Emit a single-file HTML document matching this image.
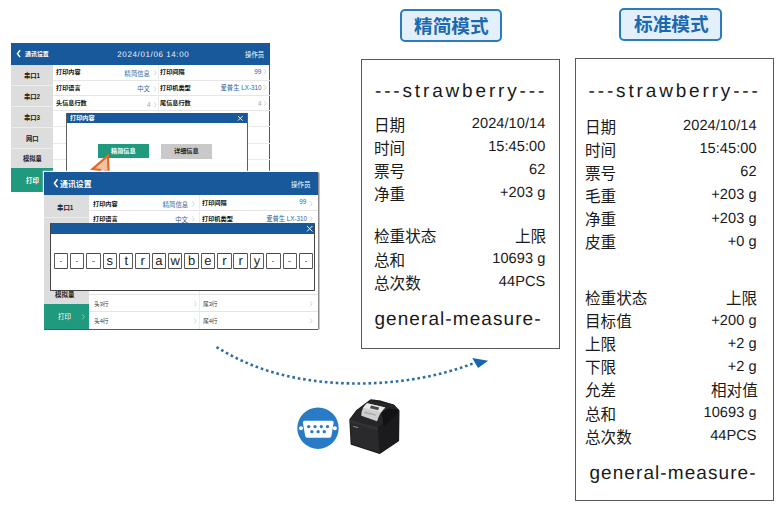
<!DOCTYPE html>
<html lang="zh"><head><meta charset="utf-8"><title>print modes</title><style>
html,body{margin:0;padding:0;background:#fff}
body{width:780px;height:514px;position:relative;overflow:hidden;font-family:"Liberation Sans",sans-serif}
#c{position:absolute;left:0;top:0;width:780px;height:514px;overflow:hidden}
#c div{position:absolute}
.g{position:absolute;display:block;overflow:visible}
.g text{font-family:"Liberation Sans","Noto Sans CJK SC",sans-serif;white-space:pre}
.g text.b{font-weight:bold}
#tx text{font-family:"Liberation Sans",sans-serif;white-space:pre;text-rendering:geometricPrecision;font-kerning:none}
</style></head><body>
<div id="c">
<div style="left:11.00px;top:43.00px;width:259.00px;height:149.40px;background:#fff;"></div>
<div style="left:269.30px;top:64.70px;width:0.80px;height:127.70px;background:#5a5a5a;"></div>
<div style="left:11.00px;top:43.00px;width:259.00px;height:21.70px;background:#17599a;"></div>
<svg class="g" style="left:17.00px;top:49.90px;width:3.40px;height:7.40px;overflow:visible" viewBox="0 0 3.4 7.4"><path d="M3.1 0.3L0.4 3.7L3.1 7.1000000000000005" fill="none" stroke="#fff" stroke-width="1.4"/></svg>
<svg class="g" style="left:25.10px;top:50.73px;width:23.80px;height:7.14px;fill:#fff"><text class="b" x="0" y="5.24" font-size="5.95">通讯设置</text></svg>
<svg class="g" style="left:245.00px;top:50.80px;width:19.20px;height:7.68px;fill:#fff"><text x="0" y="5.63" font-size="6.4">操作员</text></svg>
<div style="left:11.00px;top:64.70px;width:42.00px;height:127.70px;background:#dddddd;"></div>
<div style="left:11.00px;top:85.20px;width:42.00px;height:0.80px;background:#ececec;"></div>
<div style="left:11.00px;top:106.30px;width:42.00px;height:0.80px;background:#ececec;"></div>
<div style="left:11.00px;top:127.30px;width:42.00px;height:0.80px;background:#ececec;"></div>
<div style="left:11.00px;top:147.50px;width:42.00px;height:0.80px;background:#ececec;"></div>
<div style="left:11.00px;top:167.60px;width:42.00px;height:24.80px;background:#1f9a7f;"></div>
<svg class="g" style="left:23.84px;top:72.40px;width:16.32px;height:7.56px;fill:#222"><text class="b" x="0" y="5.54" font-size="6.3">串口1</text></svg>
<svg class="g" style="left:23.84px;top:93.40px;width:16.32px;height:7.56px;fill:#222"><text class="b" x="0" y="5.54" font-size="6.3">串口2</text></svg>
<svg class="g" style="left:23.84px;top:114.45px;width:16.32px;height:7.56px;fill:#222"><text class="b" x="0" y="5.54" font-size="6.3">串口3</text></svg>
<svg class="g" style="left:25.70px;top:135.05px;width:12.60px;height:7.56px;fill:#222"><text class="b" x="0" y="5.54" font-size="6.3">网口</text></svg>
<svg class="g" style="left:22.55px;top:155.00px;width:18.90px;height:7.56px;fill:#222"><text class="b" x="0" y="5.54" font-size="6.3">模拟量</text></svg>
<svg class="g" style="left:25.90px;top:176.70px;width:12.80px;height:7.68px;fill:#fff"><text class="b" x="0" y="5.63" font-size="6.4">打印</text></svg>
<div style="left:53.00px;top:79.50px;width:217.00px;height:0.80px;background:#e6e6e6;"></div>
<div style="left:53.00px;top:94.60px;width:217.00px;height:0.80px;background:#e6e6e6;"></div>
<div style="left:53.00px;top:109.80px;width:217.00px;height:0.80px;background:#e6e6e6;"></div>
<div style="left:53.00px;top:126.10px;width:217.00px;height:0.80px;background:#ece8e5;"></div>
<div style="left:53.00px;top:142.80px;width:217.00px;height:0.80px;background:#ece8e5;"></div>
<div style="left:53.00px;top:159.10px;width:217.00px;height:0.80px;background:#ece8e5;"></div>
<div style="left:53.00px;top:175.60px;width:217.00px;height:0.80px;background:#ece8e5;"></div>
<div style="left:157.70px;top:64.70px;width:0.70px;height:127.70px;background:#ededed;"></div>
<svg class="g" style="left:55.60px;top:69.32px;width:24.60px;height:7.38px;fill:#111"><text class="b" x="0" y="5.41" font-size="6.15">打印内容</text></svg>
<svg class="g" style="left:124.40px;top:69.55px;width:25.80px;height:7.56px;fill:#2f669e"><text x="25.80" y="5.54" font-size="6.3" text-anchor="end">精简信息</text></svg>
<svg class="g" style="left:153.60px;top:70.20px;width:2.30px;height:5.40px;overflow:visible" viewBox="0 0 2.3 5.4"><path d="M0.3 0.3L1.9999999999999998 2.7L0.3 5.1000000000000005" fill="none" stroke="#bccbdb" stroke-width="0.8"/></svg>
<svg class="g" style="left:159.80px;top:69.02px;width:24.60px;height:7.38px;fill:#111"><text class="b" x="0" y="5.41" font-size="6.15">打印间隔</text></svg>
<svg class="g" style="left:254.02px;top:67.55px;width:7.38px;height:7.56px;fill:#2f669e"><text x="7.38" y="5.54" font-size="6.3" text-anchor="end">99</text></svg>
<svg class="g" style="left:264.20px;top:68.60px;width:2.30px;height:5.40px;overflow:visible" viewBox="0 0 2.3 5.4"><path d="M0.3 0.3L1.9999999999999998 2.7L0.3 5.1000000000000005" fill="none" stroke="#bccbdb" stroke-width="0.8"/></svg>
<svg class="g" style="left:55.60px;top:85.32px;width:24.60px;height:7.38px;fill:#111"><text class="b" x="0" y="5.41" font-size="6.15">打印语言</text></svg>
<svg class="g" style="left:137.40px;top:85.15px;width:12.80px;height:7.56px;fill:#2f669e"><text x="12.80" y="5.54" font-size="6.3" text-anchor="end">中文</text></svg>
<svg class="g" style="left:153.60px;top:85.80px;width:2.30px;height:5.40px;overflow:visible" viewBox="0 0 2.3 5.4"><path d="M0.3 0.3L1.9999999999999998 2.7L0.3 5.1000000000000005" fill="none" stroke="#bccbdb" stroke-width="0.8"/></svg>
<svg class="g" style="left:159.80px;top:85.02px;width:30.75px;height:7.38px;fill:#111"><text class="b" x="0" y="5.41" font-size="6.15">打印机类型</text></svg>
<svg class="g" style="left:219.87px;top:84.05px;width:41.53px;height:7.56px;fill:#2f669e"><text x="41.53" y="5.54" font-size="6.3" text-anchor="end">爱普生 LX-310</text></svg>
<svg class="g" style="left:264.20px;top:85.10px;width:2.30px;height:5.40px;overflow:visible" viewBox="0 0 2.3 5.4"><path d="M0.3 0.3L1.9999999999999998 2.7L0.3 5.1000000000000005" fill="none" stroke="#bccbdb" stroke-width="0.8"/></svg>
<svg class="g" style="left:55.60px;top:100.42px;width:30.75px;height:7.38px;fill:#111"><text class="b" x="0" y="5.41" font-size="6.15">头信息行数</text></svg>
<svg class="g" style="left:146.61px;top:100.85px;width:3.59px;height:7.56px;fill:#9aa8b8"><text x="3.59" y="5.54" font-size="6.3" text-anchor="end">4</text></svg>
<svg class="g" style="left:153.60px;top:101.50px;width:2.30px;height:5.40px;overflow:visible" viewBox="0 0 2.3 5.4"><path d="M0.3 0.3L1.9999999999999998 2.7L0.3 5.1000000000000005" fill="none" stroke="#bccbdb" stroke-width="0.8"/></svg>
<svg class="g" style="left:159.80px;top:100.12px;width:30.75px;height:7.38px;fill:#111"><text class="b" x="0" y="5.41" font-size="6.15">尾信息行数</text></svg>
<svg class="g" style="left:257.81px;top:100.15px;width:3.59px;height:7.56px;fill:#9aa8b8"><text x="3.59" y="5.54" font-size="6.3" text-anchor="end">4</text></svg>
<svg class="g" style="left:264.20px;top:101.20px;width:2.30px;height:5.40px;overflow:visible" viewBox="0 0 2.3 5.4"><path d="M0.3 0.3L1.9999999999999998 2.7L0.3 5.1000000000000005" fill="none" stroke="#bccbdb" stroke-width="0.8"/></svg>
<div style="left:67.30px;top:113.20px;width:179.70px;height:78.00px;background:#fff;box-shadow:-0.8px 0 0 0 #3a3a3a, 0.8px 0 0 0 #3a3a3a;"></div>
<div style="left:67.30px;top:113.20px;width:179.70px;height:10.20px;background:#17599a;"></div>
<svg class="g" style="left:70.00px;top:115.40px;width:24.80px;height:7.44px;fill:#fff"><text class="b" x="0" y="5.46" font-size="6.2">打印内容</text></svg>
<svg class="g" style="left:237.90px;top:116.00px;width:4.60px;height:4.60px;overflow:visible" viewBox="0 0 4.6 4.6"><path d="M0 0L4.6 4.6M4.6 0L0 4.6" fill="none" stroke="#fff" stroke-width="0.9"/></svg>
<div style="left:98.00px;top:143.80px;width:50.80px;height:14.20px;background:#1f9a7f;"></div>
<svg class="g" style="left:111.00px;top:147.70px;width:24.80px;height:7.44px;fill:#fff"><text class="b" x="0" y="5.46" font-size="6.2">精简信息</text></svg>
<div style="left:160.60px;top:143.80px;width:51.60px;height:14.80px;background:#c9c9c9;"></div>
<svg class="g" style="left:174.40px;top:148.00px;width:24.80px;height:7.44px;fill:#222"><text class="b" x="0" y="5.46" font-size="6.2">详细信息</text></svg>
<svg class="g" style="left:85px;top:150px;width:30px;height:30px;overflow:visible" viewBox="85 150 30 30"><path d="M107.9 155.6L92.6 169.0L99.8 169.9L97.6 176L104 177L105.6 171.6L108.7 173.2Z" fill="#f1c3a6" stroke="#df6a21" stroke-width="2.2" stroke-linejoin="miter"/></svg>
<div style="left:44.00px;top:172.30px;width:274.00px;height:156.70px;background:#fff;box-shadow:0 1px 0 0 #5c5c5c, 1.5px 0.5px 0 0 #8c8c8c, -1.2px -1.2px 0 0 #fff;"></div>
<div style="left:44.00px;top:172.30px;width:274.00px;height:22.40px;background:#17599a;"></div>
<svg class="g" style="left:54.00px;top:179.40px;width:3.90px;height:8.60px;overflow:visible" viewBox="0 0 3.9 8.6"><path d="M3.6 0.3L0.4 4.3L3.6 8.299999999999999" fill="none" stroke="#fff" stroke-width="1.5"/></svg>
<svg class="g" style="left:60.00px;top:179.75px;width:31.60px;height:9.48px;fill:#fff"><text class="b" x="0" y="6.95" font-size="7.9">通讯设置</text></svg>
<svg class="g" style="left:290.50px;top:180.75px;width:19.50px;height:7.80px;fill:#fff"><text x="0" y="5.72" font-size="6.5">操作员</text></svg>
<div style="left:44.00px;top:194.70px;width:44.60px;height:134.30px;background:#dddddd;"></div>
<div style="left:44.00px;top:216.60px;width:44.60px;height:0.80px;background:#ececec;"></div>
<svg class="g" style="left:56.71px;top:203.60px;width:16.58px;height:7.68px;fill:#222"><text class="b" x="0" y="5.63" font-size="6.4">串口1</text></svg>
<svg class="g" style="left:55.05px;top:290.95px;width:19.50px;height:7.80px;fill:#222"><text class="b" x="0" y="5.72" font-size="6.5">模拟量</text></svg>
<div style="left:44.00px;top:303.90px;width:44.60px;height:25.10px;background:#1f9a7f;"></div>
<svg class="g" style="left:58.40px;top:312.95px;width:13.00px;height:7.80px;fill:#fff"><text x="0" y="5.72" font-size="6.5">打印</text></svg>
<svg class="g" style="left:81.80px;top:313.60px;width:2.60px;height:5.60px;overflow:visible" viewBox="0 0 2.6 5.6"><path d="M0.3 0.3L2.3000000000000003 2.8L0.3 5.3" fill="none" stroke="#8fd3c2" stroke-width="0.8"/></svg>
<div style="left:88.60px;top:210.10px;width:229.40px;height:0.80px;background:#e4e4e4;"></div>
<div style="left:199.20px;top:194.70px;width:0.70px;height:134.30px;background:#ececec;"></div>
<svg class="g" style="left:93.20px;top:200.90px;width:24.80px;height:7.44px;fill:#111"><text class="b" x="0" y="5.46" font-size="6.2">打印内容</text></svg>
<svg class="g" style="left:161.60px;top:200.90px;width:26.20px;height:7.68px;fill:#2f669e"><text x="26.20" y="5.63" font-size="6.4" text-anchor="end">精简信息</text></svg>
<svg class="g" style="left:192.00px;top:200.70px;width:2.40px;height:5.60px;overflow:visible" viewBox="0 0 2.4 5.6"><path d="M0.3 0.3L2.1 2.8L0.3 5.3" fill="none" stroke="#bccbdb" stroke-width="0.8"/></svg>
<svg class="g" style="left:202.30px;top:200.20px;width:24.80px;height:7.44px;fill:#111"><text class="b" x="0" y="5.46" font-size="6.2">打印间隔</text></svg>
<svg class="g" style="left:299.42px;top:198.25px;width:7.38px;height:7.56px;fill:#2f669e"><text x="7.38" y="5.54" font-size="6.3" text-anchor="end">99</text></svg>
<svg class="g" style="left:309.60px;top:200.60px;width:2.40px;height:5.60px;overflow:visible" viewBox="0 0 2.4 5.6"><path d="M0.3 0.3L2.1 2.8L0.3 5.3" fill="none" stroke="#bccbdb" stroke-width="0.8"/></svg>
<svg class="g" style="left:93.20px;top:216.40px;width:24.80px;height:7.44px;fill:#111"><text class="b" x="0" y="5.46" font-size="6.2">打印语言</text></svg>
<svg class="g" style="left:174.80px;top:215.80px;width:13.00px;height:7.68px;fill:#2f669e"><text x="13.00" y="5.63" font-size="6.4" text-anchor="end">中文</text></svg>
<svg class="g" style="left:192.00px;top:216.40px;width:2.40px;height:5.60px;overflow:visible" viewBox="0 0 2.4 5.6"><path d="M0.3 0.3L2.1 2.8L0.3 5.3" fill="none" stroke="#bccbdb" stroke-width="0.8"/></svg>
<svg class="g" style="left:202.30px;top:216.20px;width:31.00px;height:7.44px;fill:#111"><text class="b" x="0" y="5.46" font-size="6.2">打印机类型</text></svg>
<svg class="g" style="left:265.72px;top:215.15px;width:41.08px;height:7.56px;fill:#2f669e"><text x="41.08" y="5.54" font-size="6.3" text-anchor="end">爱普生 LX-310</text></svg>
<svg class="g" style="left:309.60px;top:216.10px;width:2.40px;height:5.60px;overflow:visible" viewBox="0 0 2.4 5.6"><path d="M0.3 0.3L2.1 2.8L0.3 5.3" fill="none" stroke="#bccbdb" stroke-width="0.8"/></svg>
<div style="left:88.60px;top:294.20px;width:229.40px;height:0.70px;background:#e4e4e4;"></div>
<div style="left:88.60px;top:311.10px;width:229.40px;height:0.70px;background:#e4e4e4;"></div>
<svg class="g" style="left:93.80px;top:301.05px;width:14.65px;height:6.84px;fill:#333"><text x="0" y="5.02" font-size="5.7">头3行</text></svg>
<svg class="g" style="left:193.60px;top:301.10px;width:2.40px;height:5.60px;overflow:visible" viewBox="0 0 2.4 5.6"><path d="M0.3 0.3L2.1 2.8L0.3 5.3" fill="none" stroke="#bccbdb" stroke-width="0.8"/></svg>
<svg class="g" style="left:203.00px;top:301.05px;width:14.65px;height:6.84px;fill:#333"><text x="0" y="5.02" font-size="5.7">尾3行</text></svg>
<svg class="g" style="left:309.80px;top:301.10px;width:2.40px;height:5.60px;overflow:visible" viewBox="0 0 2.4 5.6"><path d="M0.3 0.3L2.1 2.8L0.3 5.3" fill="none" stroke="#bccbdb" stroke-width="0.8"/></svg>
<svg class="g" style="left:93.80px;top:317.75px;width:14.65px;height:6.84px;fill:#333"><text x="0" y="5.02" font-size="5.7">头4行</text></svg>
<svg class="g" style="left:193.60px;top:317.80px;width:2.40px;height:5.60px;overflow:visible" viewBox="0 0 2.4 5.6"><path d="M0.3 0.3L2.1 2.8L0.3 5.3" fill="none" stroke="#bccbdb" stroke-width="0.8"/></svg>
<svg class="g" style="left:203.00px;top:317.75px;width:14.65px;height:6.84px;fill:#333"><text x="0" y="5.02" font-size="5.7">尾4行</text></svg>
<svg class="g" style="left:309.80px;top:317.80px;width:2.40px;height:5.60px;overflow:visible" viewBox="0 0 2.4 5.6"><path d="M0.3 0.3L2.1 2.8L0.3 5.3" fill="none" stroke="#bccbdb" stroke-width="0.8"/></svg>
<div style="left:51.30px;top:222.60px;width:263.20px;height:67.30px;background:#fff;box-shadow:-0.9px 0 0 0 #444, 0.9px 0 0 0 #444, 0 0.9px 0 0 #444, 0.9px 0.9px 0 0 #444, -0.9px 0.9px 0 0 #444;"></div>
<div style="left:51.30px;top:222.60px;width:263.20px;height:11.20px;background:#17599a;"></div>
<svg class="g" style="left:306.80px;top:225.60px;width:5.40px;height:5.40px;overflow:visible" viewBox="0 0 5.4 5.4"><path d="M0 0L5.4 5.4M5.4 0L0 5.4" fill="none" stroke="#fff" stroke-width="1.0"/></svg>
<div style="left:53.60px;top:252.90px;width:14.40px;height:16.40px;background:#fff;box-shadow:inset 0 0 0 0.9px #4a4a4a;border-radius:1.2px;"></div>
<div style="left:59.50px;top:261.30px;width:2.40px;height:0.80px;background:#8a8a8a;"></div>
<div style="left:69.95px;top:252.90px;width:14.40px;height:16.40px;background:#fff;box-shadow:inset 0 0 0 0.9px #4a4a4a;border-radius:1.2px;"></div>
<div style="left:75.85px;top:261.30px;width:2.40px;height:0.80px;background:#8a8a8a;"></div>
<div style="left:86.31px;top:252.90px;width:14.40px;height:16.40px;background:#fff;box-shadow:inset 0 0 0 0.9px #4a4a4a;border-radius:1.2px;"></div>
<div style="left:92.21px;top:261.30px;width:2.40px;height:0.80px;background:#8a8a8a;"></div>
<div style="left:102.66px;top:252.90px;width:14.40px;height:16.40px;background:#fff;box-shadow:inset 0 0 0 0.9px #4a4a4a;border-radius:1.2px;"></div>
<div style="left:119.01px;top:252.90px;width:14.40px;height:16.40px;background:#fff;box-shadow:inset 0 0 0 0.9px #4a4a4a;border-radius:1.2px;"></div>
<div style="left:135.37px;top:252.90px;width:14.40px;height:16.40px;background:#fff;box-shadow:inset 0 0 0 0.9px #4a4a4a;border-radius:1.2px;"></div>
<div style="left:151.72px;top:252.90px;width:14.40px;height:16.40px;background:#fff;box-shadow:inset 0 0 0 0.9px #4a4a4a;border-radius:1.2px;"></div>
<div style="left:168.07px;top:252.90px;width:14.40px;height:16.40px;background:#fff;box-shadow:inset 0 0 0 0.9px #4a4a4a;border-radius:1.2px;"></div>
<div style="left:184.42px;top:252.90px;width:14.40px;height:16.40px;background:#fff;box-shadow:inset 0 0 0 0.9px #4a4a4a;border-radius:1.2px;"></div>
<div style="left:200.78px;top:252.90px;width:14.40px;height:16.40px;background:#fff;box-shadow:inset 0 0 0 0.9px #4a4a4a;border-radius:1.2px;"></div>
<div style="left:217.13px;top:252.90px;width:14.40px;height:16.40px;background:#fff;box-shadow:inset 0 0 0 0.9px #4a4a4a;border-radius:1.2px;"></div>
<div style="left:233.48px;top:252.90px;width:14.40px;height:16.40px;background:#fff;box-shadow:inset 0 0 0 0.9px #4a4a4a;border-radius:1.2px;"></div>
<div style="left:249.84px;top:252.90px;width:14.40px;height:16.40px;background:#fff;box-shadow:inset 0 0 0 0.9px #4a4a4a;border-radius:1.2px;"></div>
<div style="left:266.19px;top:252.90px;width:14.40px;height:16.40px;background:#fff;box-shadow:inset 0 0 0 0.9px #4a4a4a;border-radius:1.2px;"></div>
<div style="left:272.09px;top:261.30px;width:2.40px;height:0.80px;background:#8a8a8a;"></div>
<div style="left:282.54px;top:252.90px;width:14.40px;height:16.40px;background:#fff;box-shadow:inset 0 0 0 0.9px #4a4a4a;border-radius:1.2px;"></div>
<div style="left:288.44px;top:261.30px;width:2.40px;height:0.80px;background:#8a8a8a;"></div>
<div style="left:298.90px;top:252.90px;width:14.40px;height:16.40px;background:#fff;box-shadow:inset 0 0 0 0.9px #4a4a4a;border-radius:1.2px;"></div>
<div style="left:304.80px;top:261.30px;width:2.40px;height:0.80px;background:#8a8a8a;"></div>
<div style="left:400.30px;top:9.30px;width:101.60px;height:33.20px;background:#e3f0fb;box-sizing:border-box;border:2.2px solid #277cc4;border-radius:5px;"></div>
<svg class="g" style="left:414.00px;top:16.85px;width:74.80px;height:22.44px;fill:#1b69b0"><text class="b" x="0" y="16.46" font-size="18.7">精简模式</text></svg>
<div style="left:619.40px;top:7.60px;width:102.60px;height:33.30px;background:#e3f0fb;box-sizing:border-box;border:2.2px solid #277cc4;border-radius:5px;"></div>
<svg class="g" style="left:633.70px;top:15.20px;width:74.80px;height:22.44px;fill:#1b69b0"><text class="b" x="0" y="16.46" font-size="18.7">标准模式</text></svg>
<div style="left:361.20px;top:58.50px;width:198.80px;height:290.10px;background:#fff;box-sizing:border-box;border:1px solid #5a5a5a;"></div>
<div style="left:575.20px;top:58.40px;width:198.80px;height:442.50px;background:#fff;box-sizing:border-box;border:1px solid #5a5a5a;"></div>
<svg class="g" style="left:373.90px;top:116.70px;width:31.20px;height:18.72px;fill:#1a1a1a"><text x="0" y="13.73" font-size="15.6">日期</text></svg>
<svg class="g" style="left:373.90px;top:139.70px;width:31.20px;height:18.72px;fill:#1a1a1a"><text x="0" y="13.73" font-size="15.6">时间</text></svg>
<svg class="g" style="left:373.90px;top:162.70px;width:31.20px;height:18.72px;fill:#1a1a1a"><text x="0" y="13.73" font-size="15.6">票号</text></svg>
<svg class="g" style="left:373.90px;top:185.80px;width:31.20px;height:18.72px;fill:#1a1a1a"><text x="0" y="13.73" font-size="15.6">净重</text></svg>
<svg class="g" style="left:373.90px;top:228.20px;width:62.40px;height:18.72px;fill:#1a1a1a"><text x="0" y="13.73" font-size="15.6">检重状态</text></svg>
<svg class="g" style="left:514.90px;top:228.20px;width:31.20px;height:18.72px;fill:#1a1a1a"><text x="31.20" y="13.73" font-size="15.6" text-anchor="end">上限</text></svg>
<svg class="g" style="left:373.90px;top:251.70px;width:31.20px;height:18.72px;fill:#1a1a1a"><text x="0" y="13.73" font-size="15.6">总和</text></svg>
<svg class="g" style="left:373.90px;top:275.10px;width:46.80px;height:18.72px;fill:#1a1a1a"><text x="0" y="13.73" font-size="15.6">总次数</text></svg>
<svg class="g" style="left:584.90px;top:119.00px;width:31.20px;height:18.72px;fill:#1a1a1a"><text x="0" y="13.73" font-size="15.6">日期</text></svg>
<svg class="g" style="left:584.90px;top:141.95px;width:31.20px;height:18.72px;fill:#1a1a1a"><text x="0" y="13.73" font-size="15.6">时间</text></svg>
<svg class="g" style="left:584.90px;top:164.90px;width:31.20px;height:18.72px;fill:#1a1a1a"><text x="0" y="13.73" font-size="15.6">票号</text></svg>
<svg class="g" style="left:584.90px;top:187.85px;width:31.20px;height:18.72px;fill:#1a1a1a"><text x="0" y="13.73" font-size="15.6">毛重</text></svg>
<svg class="g" style="left:584.90px;top:210.80px;width:31.20px;height:18.72px;fill:#1a1a1a"><text x="0" y="13.73" font-size="15.6">净重</text></svg>
<svg class="g" style="left:584.90px;top:233.75px;width:31.20px;height:18.72px;fill:#1a1a1a"><text x="0" y="13.73" font-size="15.6">皮重</text></svg>
<svg class="g" style="left:584.90px;top:289.60px;width:62.40px;height:18.72px;fill:#1a1a1a"><text x="0" y="13.73" font-size="15.6">检重状态</text></svg>
<svg class="g" style="left:726.20px;top:289.60px;width:31.20px;height:18.72px;fill:#1a1a1a"><text x="31.20" y="13.73" font-size="15.6" text-anchor="end">上限</text></svg>
<svg class="g" style="left:584.90px;top:312.70px;width:46.80px;height:18.72px;fill:#1a1a1a"><text x="0" y="13.73" font-size="15.6">目标值</text></svg>
<svg class="g" style="left:584.90px;top:335.80px;width:31.20px;height:18.72px;fill:#1a1a1a"><text x="0" y="13.73" font-size="15.6">上限</text></svg>
<svg class="g" style="left:584.90px;top:358.90px;width:31.20px;height:18.72px;fill:#1a1a1a"><text x="0" y="13.73" font-size="15.6">下限</text></svg>
<svg class="g" style="left:584.90px;top:382.00px;width:31.20px;height:18.72px;fill:#1a1a1a"><text x="0" y="13.73" font-size="15.6">允差</text></svg>
<svg class="g" style="left:710.60px;top:382.00px;width:46.80px;height:18.72px;fill:#1a1a1a"><text x="46.80" y="13.73" font-size="15.6" text-anchor="end">相对值</text></svg>
<svg class="g" style="left:584.90px;top:405.80px;width:31.20px;height:18.72px;fill:#1a1a1a"><text x="0" y="13.73" font-size="15.6">总和</text></svg>
<svg class="g" style="left:584.90px;top:428.90px;width:46.80px;height:18.72px;fill:#1a1a1a"><text x="0" y="13.73" font-size="15.6">总次数</text></svg>
<svg class="g" style="left:0;top:0;width:780px;height:514px" viewBox="0 0 780 514"><g fill="#2a6ea9"><rect x="-1.3" y="-1.3" width="2.6" height="2.6" transform="translate(217.60 347.75) rotate(31.7)"/><rect x="-1.3" y="-1.3" width="2.6" height="2.6" transform="translate(222.32 350.59) rotate(30.3)"/><rect x="-1.3" y="-1.3" width="2.6" height="2.6" transform="translate(227.04 353.27) rotate(28.9)"/><rect x="-1.3" y="-1.3" width="2.6" height="2.6" transform="translate(231.87 355.86) rotate(27.4)"/><rect x="-1.3" y="-1.3" width="2.6" height="2.6" transform="translate(236.79 358.34) rotate(26.0)"/><rect x="-1.3" y="-1.3" width="2.6" height="2.6" transform="translate(241.72 360.67) rotate(24.6)"/><rect x="-1.3" y="-1.3" width="2.6" height="2.6" transform="translate(246.69 362.87) rotate(23.2)"/><rect x="-1.3" y="-1.3" width="2.6" height="2.6" transform="translate(251.77 364.97) rotate(21.8)"/><rect x="-1.3" y="-1.3" width="2.6" height="2.6" transform="translate(256.85 366.93) rotate(20.4)"/><rect x="-1.3" y="-1.3" width="2.6" height="2.6" transform="translate(262.02 368.79) rotate(19.0)"/><rect x="-1.3" y="-1.3" width="2.6" height="2.6" transform="translate(267.20 370.51) rotate(17.7)"/><rect x="-1.3" y="-1.3" width="2.6" height="2.6" transform="translate(272.43 372.12) rotate(16.4)"/><rect x="-1.3" y="-1.3" width="2.6" height="2.6" transform="translate(277.71 373.61) rotate(15.1)"/><rect x="-1.3" y="-1.3" width="2.6" height="2.6" transform="translate(282.99 374.98) rotate(13.9)"/><rect x="-1.3" y="-1.3" width="2.6" height="2.6" transform="translate(288.32 376.24) rotate(12.7)"/><rect x="-1.3" y="-1.3" width="2.6" height="2.6" transform="translate(293.65 377.38) rotate(11.5)"/><rect x="-1.3" y="-1.3" width="2.6" height="2.6" transform="translate(299.04 378.43) rotate(10.4)"/><rect x="-1.3" y="-1.3" width="2.6" height="2.6" transform="translate(304.42 379.36) rotate(9.3)"/><rect x="-1.3" y="-1.3" width="2.6" height="2.6" transform="translate(309.80 380.20) rotate(8.2)"/><rect x="-1.3" y="-1.3" width="2.6" height="2.6" transform="translate(315.23 380.93) rotate(7.2)"/><rect x="-1.3" y="-1.3" width="2.6" height="2.6" transform="translate(320.66 381.57) rotate(6.2)"/><rect x="-1.3" y="-1.3" width="2.6" height="2.6" transform="translate(326.10 382.11) rotate(5.2)"/><rect x="-1.3" y="-1.3" width="2.6" height="2.6" transform="translate(331.53 382.56) rotate(4.3)"/><rect x="-1.3" y="-1.3" width="2.6" height="2.6" transform="translate(337.01 382.93) rotate(3.3)"/><rect x="-1.3" y="-1.3" width="2.6" height="2.6" transform="translate(342.44 383.20) rotate(2.4)"/><rect x="-1.3" y="-1.3" width="2.6" height="2.6" transform="translate(347.93 383.39) rotate(1.5)"/><rect x="-1.3" y="-1.3" width="2.6" height="2.6" transform="translate(353.41 383.49) rotate(0.6)"/><rect x="-1.3" y="-1.3" width="2.6" height="2.6" transform="translate(358.84 383.51) rotate(-0.2)"/><rect x="-1.3" y="-1.3" width="2.6" height="2.6" transform="translate(364.33 383.45) rotate(-1.1)"/><rect x="-1.3" y="-1.3" width="2.6" height="2.6" transform="translate(369.81 383.30) rotate(-2.0)"/><rect x="-1.3" y="-1.3" width="2.6" height="2.6" transform="translate(375.24 383.08) rotate(-2.8)"/><rect x="-1.3" y="-1.3" width="2.6" height="2.6" transform="translate(380.72 382.77) rotate(-3.7)"/><rect x="-1.3" y="-1.3" width="2.6" height="2.6" transform="translate(386.16 382.38) rotate(-4.5)"/><rect x="-1.3" y="-1.3" width="2.6" height="2.6" transform="translate(391.64 381.91) rotate(-5.4)"/><rect x="-1.3" y="-1.3" width="2.6" height="2.6" transform="translate(397.07 381.35) rotate(-6.3)"/><rect x="-1.3" y="-1.3" width="2.6" height="2.6" transform="translate(402.50 380.71) rotate(-7.2)"/><rect x="-1.3" y="-1.3" width="2.6" height="2.6" transform="translate(407.89 380.00) rotate(-8.1)"/><rect x="-1.3" y="-1.3" width="2.6" height="2.6" transform="translate(413.32 379.18) rotate(-9.0)"/><rect x="-1.3" y="-1.3" width="2.6" height="2.6" transform="translate(418.70 378.29) rotate(-9.9)"/><rect x="-1.3" y="-1.3" width="2.6" height="2.6" transform="translate(424.08 377.30) rotate(-10.9)"/><rect x="-1.3" y="-1.3" width="2.6" height="2.6" transform="translate(429.46 376.22) rotate(-11.9)"/><rect x="-1.3" y="-1.3" width="2.6" height="2.6" transform="translate(434.79 375.05) rotate(-12.9)"/><rect x="-1.3" y="-1.3" width="2.6" height="2.6" transform="translate(440.13 373.77) rotate(-13.9)"/><rect x="-1.3" y="-1.3" width="2.6" height="2.6" transform="translate(445.41 372.41) rotate(-15.0)"/><rect x="-1.3" y="-1.3" width="2.6" height="2.6" transform="translate(450.69 370.94) rotate(-16.1)"/><rect x="-1.3" y="-1.3" width="2.6" height="2.6" transform="translate(455.92 369.38) rotate(-17.2)"/><rect x="-1.3" y="-1.3" width="2.6" height="2.6" transform="translate(461.14 367.70) rotate(-18.4)"/><rect x="-1.3" y="-1.3" width="2.6" height="2.6" transform="translate(466.27 365.94) rotate(-19.6)"/><rect x="-1.3" y="-1.3" width="2.6" height="2.6" transform="translate(471.35 364.08) rotate(-20.7)"/></g><path d="M472.2 358.0L488.2 360.8L478.1 367.9Z" fill="#1565b3"/></svg>
<svg class="g" style="left:295px;top:405px;width:46px;height:46px" viewBox="295 405 46 46"><circle cx="318" cy="428.2" r="20.7" fill="#2a7bc7"/><path d="M304.6 420.8H331.8Q334.0 420.8 333.6 423.0L331.4 436.0Q331.1 437.8 329.3 437.8H307.3Q305.5 437.8 305.2 436.0L302.9 423.0Q302.5 420.8 304.6 420.8Z" fill="#fff"/><circle cx="301.0" cy="428.2" r="2.0" fill="#fff"/><circle cx="334.9" cy="428.2" r="2.0" fill="#fff"/><g fill="#2a7bc7"><circle cx="308.7" cy="426.6" r="1.65"/><circle cx="315.0" cy="426.6" r="1.65"/><circle cx="321.3" cy="426.6" r="1.65"/><circle cx="327.5" cy="426.6" r="1.65"/><circle cx="311.9" cy="431.7" r="1.65"/><circle cx="318.1" cy="431.7" r="1.65"/><circle cx="324.3" cy="431.7" r="1.65"/></g></svg>
<svg class="g" style="left:340px;top:390px;width:70px;height:70px" viewBox="340 390 70 70"><polygon points="370.8,400.1 380.9,401.4 393.7,405.3 398.7,410.7 398.3,440.7 379.8,453.2 351.4,443.9 350.1,419.7 356.6,411.0" fill="#1b1b1d" stroke="#1b1b1d" stroke-width="1.6" stroke-linejoin="round"/><polygon points="350.1,419.7 377.6,427.6 379.6,452.9 351.7,443.7" fill="#2a2a2d"/><polygon points="370.8,400.1 393.7,405.3 398.7,410.7 377.6,427.6 350.1,419.7 356.6,411.0" fill="#262629"/><polygon points="350.1,419.7 377.6,427.6 378.1,430.3 350.2,422.4" fill="#333336"/><polygon points="381.6,412.7 388.6,408.4 398.7,409.6 397.9,413.5 385.5,425.1 383.9,427.5" fill="#121214"/><path d="M361.3,415.8 Q361.2,407.1 367.2,403.2 L385.3,407.5 Q379.4,413.0 377.1,421.2 Z" fill="#cfcfcf"/><path d="M367.2,403.2 L385.3,407.5 Q382.7,409.7 381.1,412.1 L363.4,407.7 Q364.9,404.7 367.2,403.2Z" fill="#e9e9e9"/><polygon points="371.1,405.5 379.2,407.4 378.1,410.2 369.9,408.3" fill="#4a4a4a"/><polygon points="364.5,411.5 376.1,414.4 375.8,415.8 364.1,412.9" fill="#a8a8a8"/><polygon points="353.1,425.7 358.2,427.2 358.2,428.3 353.1,426.8" fill="#8e8e90"/></svg>
<svg class="g" id="tx" style="left:0;top:0;width:780px;height:514px" viewBox="0 0 780 514">
<text x="117.30" y="57.00" font-size="8" fill="#e8f1fa" letter-spacing="0.62">2024/01/06</text>
<text x="166.20" y="57.00" font-size="8" fill="#e8f1fa" letter-spacing="0.62">14:00</text>
<text x="109.86" y="264.90" font-size="13" fill="#222" text-anchor="middle">s</text>
<text x="126.21" y="264.90" font-size="13" fill="#222" text-anchor="middle">t</text>
<text x="142.56" y="264.90" font-size="13" fill="#222" text-anchor="middle">r</text>
<text x="158.92" y="264.90" font-size="13" fill="#222" text-anchor="middle">a</text>
<text x="175.27" y="264.90" font-size="13" fill="#222" text-anchor="middle">w</text>
<text x="191.62" y="264.90" font-size="13" fill="#222" text-anchor="middle">b</text>
<text x="207.98" y="264.90" font-size="13" fill="#222" text-anchor="middle">e</text>
<text x="224.33" y="264.90" font-size="13" fill="#222" text-anchor="middle">r</text>
<text x="240.68" y="264.90" font-size="13" fill="#222" text-anchor="middle">r</text>
<text x="257.04" y="264.90" font-size="13" fill="#222" text-anchor="middle">y</text>
<text x="375.00" y="97.10" font-size="19" fill="#1a1a1a" letter-spacing="2.84">---strawberry---</text>
<text x="545.35" y="127.70" font-size="14.6" fill="#1a1a1a" letter-spacing="0.05" text-anchor="end">2024/10/14</text>
<text x="545.35" y="150.70" font-size="14.6" fill="#1a1a1a" letter-spacing="0.05" text-anchor="end">15:45:00</text>
<text x="545.35" y="173.70" font-size="14.6" fill="#1a1a1a" letter-spacing="0.05" text-anchor="end">62</text>
<text x="545.35" y="196.80" font-size="14.6" fill="#1a1a1a" letter-spacing="0.05" text-anchor="end">+203 g</text>
<text x="545.35" y="262.70" font-size="14.6" fill="#1a1a1a" letter-spacing="0.05" text-anchor="end">10693 g</text>
<text x="545.35" y="286.10" font-size="14.6" fill="#1a1a1a" letter-spacing="0.05" text-anchor="end">44PCS</text>
<text x="374.40" y="325.20" font-size="19" fill="#1a1a1a" letter-spacing="1.08">general-measure-</text>
<text x="588.60" y="97.10" font-size="19" fill="#1a1a1a" letter-spacing="2.84">---strawberry---</text>
<text x="756.65" y="129.70" font-size="14.6" fill="#1a1a1a" letter-spacing="0.05" text-anchor="end">2024/10/14</text>
<text x="756.65" y="152.95" font-size="14.6" fill="#1a1a1a" letter-spacing="0.05" text-anchor="end">15:45:00</text>
<text x="756.65" y="176.20" font-size="14.6" fill="#1a1a1a" letter-spacing="0.05" text-anchor="end">62</text>
<text x="756.65" y="199.45" font-size="14.6" fill="#1a1a1a" letter-spacing="0.05" text-anchor="end">+203 g</text>
<text x="756.65" y="222.70" font-size="14.6" fill="#1a1a1a" letter-spacing="0.05" text-anchor="end">+203 g</text>
<text x="756.65" y="245.95" font-size="14.6" fill="#1a1a1a" letter-spacing="0.05" text-anchor="end">+0 g</text>
<text x="756.65" y="324.70" font-size="14.6" fill="#1a1a1a" letter-spacing="0.05" text-anchor="end">+200 g</text>
<text x="756.65" y="347.80" font-size="14.6" fill="#1a1a1a" letter-spacing="0.05" text-anchor="end">+2 g</text>
<text x="756.65" y="370.90" font-size="14.6" fill="#1a1a1a" letter-spacing="0.05" text-anchor="end">+2 g</text>
<text x="756.65" y="417.10" font-size="14.6" fill="#1a1a1a" letter-spacing="0.05" text-anchor="end">10693 g</text>
<text x="756.65" y="440.20" font-size="14.6" fill="#1a1a1a" letter-spacing="0.05" text-anchor="end">44PCS</text>
<text x="589.40" y="479.00" font-size="19" fill="#1a1a1a" letter-spacing="1.08">general-measure-</text>
</svg>
</div>
</body></html>
